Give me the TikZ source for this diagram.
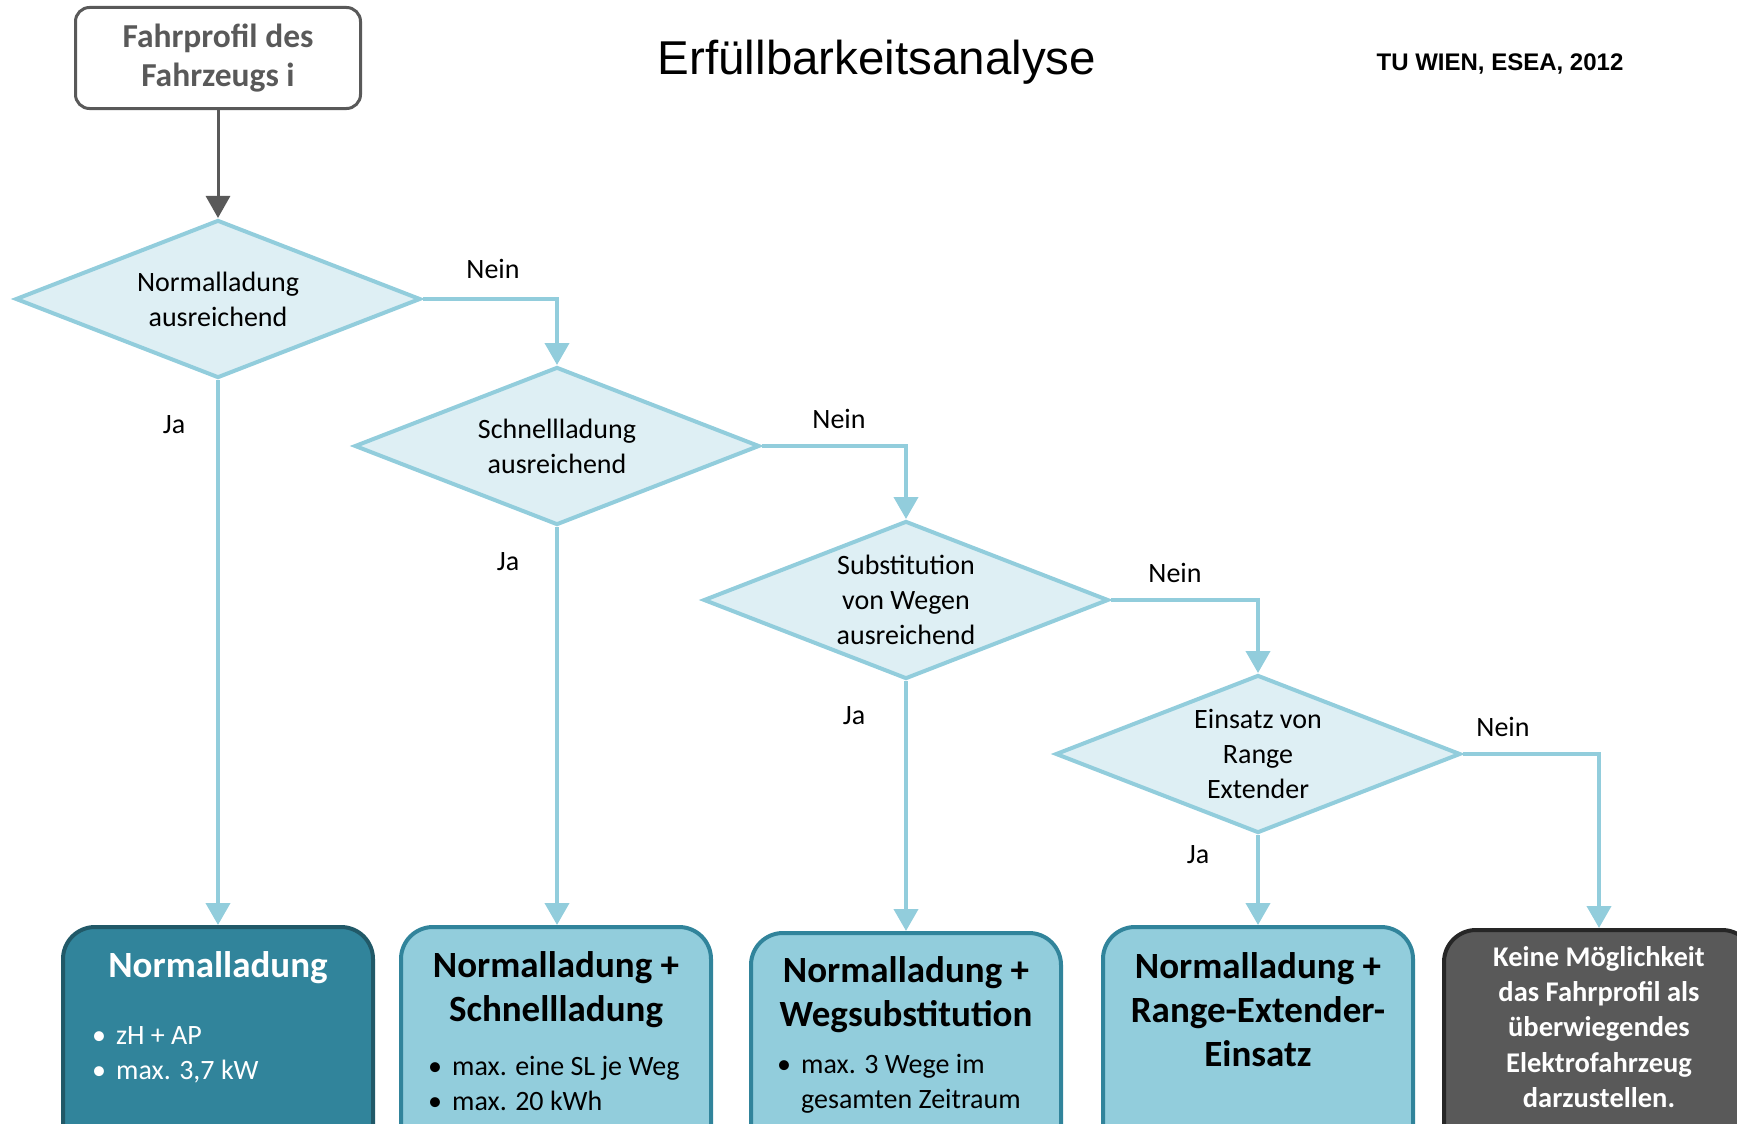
\documentclass[tikz,border=0pt]{standalone}
\usepackage{fontspec}
\setmainfont{Carlito}
\newfontfamily\arialfont{Liberation Sans}
\usetikzlibrary{shapes.geometric,arrows.meta}

\definecolor{hellblau}{HTML}{92CDDC}
\definecolor{rautefill}{HTML}{DEEFF4}
\definecolor{petrol}{HTML}{31849B}
\definecolor{petroldunkel}{HTML}{215968}
\definecolor{grau}{HTML}{595959}
\definecolor{graudunkel}{HTML}{262626}

\tikzset{
  Start/.style={draw=grau, line width=3pt, rounded corners=14pt, minimum width=285pt,
                minimum height=101pt, text=grau, align=center,
                font=\bfseries\fontsize{33.5}{39}\selectfont},
  Raute/.style={diamond, aspect=2.55, draw=hellblau, fill=rautefill, line width=4pt,
                minimum width=405pt, minimum height=158pt, inner sep=0pt, align=center,
                font=\fontsize{28}{35}\selectfont},
  Ergebnis/.style={draw=petrol, fill=hellblau, line width=4pt, rounded corners=32pt,
                   minimum width=310pt, minimum height=240pt, anchor=north},
  Titel/.style={inner sep=0pt, align=center, font=\bfseries\fontsize{37}{44}\selectfont},
  Liste/.style={inner sep=0pt, anchor=west, align=left, font=\fontsize{28}{35}\selectfont},
  Beschriftung/.style={inner sep=0pt, font=\fontsize{28}{34}\selectfont},
  Kante/.style={draw=hellblau, line width=4pt, ->},
  Pfeil/.style={draw=grau, line width=3pt, ->}
}

\begin{document}
\begin{tikzpicture}[x=1pt, y=-1pt, >={Triangle[width=24pt,length=22pt]}]
  \useasboundingbox (0,0) rectangle (1737,1124);
  \clip (0,0) rectangle (1737,1124);

  % Kopf
  \node[font=\arialfont\fontsize{47.5}{56}\selectfont] (titel) at (877,62) {Erfüllbarkeitsanalyse};
  \node[font=\arialfont\bfseries\fontsize{24}{29}\selectfont] (quelle) at (1500,64) {TU WIEN, ESEA, 2012};
  \node[Start] (start) at (218,58) {Fahrprofil des\\Fahrzeugs i};

  % Entscheidungen
  \node[Raute] (r1) at (218,299) {Normalladung\\ausreichend};
  \node[Raute] (r2) at (557,446) {Schnellladung\\ausreichend};
  \node[Raute] (r3) at (906,600) {Substitution\\von Wegen\\ausreichend};
  \node[Raute] (r4) at (1258,754) {Einsatz von\\Range\\Extender};

  % Ergebnisse
  \node[Ergebnis, fill=petrol, draw=petroldunkel] (e1) at (218,925) {};
  \node[Ergebnis] (e2) at (556,925) {};
  \node[Ergebnis] (e3) at (906,931) {};
  \node[Ergebnis] (e4) at (1258,925) {};
  \node[Ergebnis, fill=grau, draw=graudunkel] (e5) at (1599,928) {};

  \node[Titel, text=white] (e1titel) at (218,968) {Normalladung};
  \node[Liste, text=white] (e1liste) at (92,1055) {•\hspace{10pt}zH + AP\\•\hspace{10pt}max. 3,7 kW};
  \node[Titel] (e2titel) at (556,990) {Normalladung +\\Schnellladung};
  \node[Liste] (e2liste) at (428,1083) {•\hspace{10pt}max. eine SL je Weg\\•\hspace{10pt}max. 20 kWh};
  \node[Titel] (e3titel) at (906,995) {Normalladung +\\Wegsubstitution};
  \node[Liste] (e3liste) at (777,1084) {•\hspace{10pt}max. 3 Wege im\\\phantom{•}\hspace{10pt}gesamten Zeitraum};
  \node[Titel] (e4titel) at (1258,1010) {Normalladung +\\Range-Extender-\\Einsatz};
  \node[Titel, text=white, font=\bfseries\fontsize{28.5}{35.3}\selectfont] (e5text) at (1599,1027)
    {Keine Möglichkeit\\das Fahrprofil als\\überwiegendes\\Elektrofahrzeug\\darzustellen.};

  % Verbindungen
  \draw[Pfeil] (start) -- (r1);

  \draw[Kante] (r1.east) -| (r2.north);
  \draw[Kante] (r1.south) -- (r1.south |- e1.north);
  \draw[Kante] (r2.east) -| (r3.north);
  \draw[Kante] (r2.south) -- (r2.south |- e2.north);
  \draw[Kante] (r3.east) -| (r4.north);
  \draw[Kante] (r3.south) -- (r3.south |- e3.north);
  \draw[Kante] (r4.east) -| (e5.north);
  \draw[Kante] (r4.south) -- (r4.south |- e4.north);

  % Beschriftungen
  \node[Beschriftung] (nein1) at (493,269) {Nein};
  \node[Beschriftung] (nein2) at (839,419) {Nein};
  \node[Beschriftung] (nein3) at (1175,573) {Nein};
  \node[Beschriftung] (nein4) at (1503,727) {Nein};
  \node[Beschriftung] (ja1) at (174,425) {Ja};
  \node[Beschriftung] (ja2) at (508,562) {Ja};
  \node[Beschriftung] (ja3) at (854,716) {Ja};
  \node[Beschriftung] (ja4) at (1198,855) {Ja};
\end{tikzpicture}
\end{document}
